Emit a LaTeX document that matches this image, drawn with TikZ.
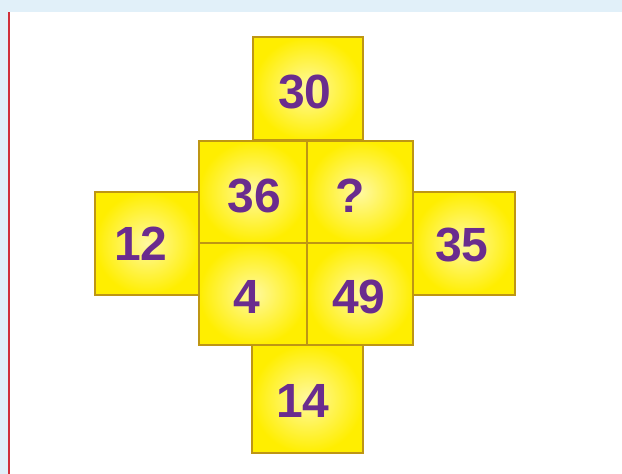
\documentclass[tikz,border=0pt]{standalone}
\usepackage{fontspec}
\setmainfont{Liberation Sans}
\definecolor{bgblue}{RGB}{225,240,249}
\definecolor{redline}{RGB}{208,48,58}
\definecolor{boxedge}{RGB}{190,150,20}
\definecolor{yinner}{RGB}{255,249,160}
\definecolor{youter}{RGB}{255,238,0}
\definecolor{numpurple}{RGB}{106,44,142}
\tikzset{
  tile/.style={rectangle, draw=boxedge, line width=1.2pt, inner sep=0pt,
    shading=radial, inner color=yinner, outer color=youter},
  num/.style={inner sep=0pt, text=numpurple, font=\fontsize{48}{48}\selectfont\bfseries}
}
\begin{document}
\begin{tikzpicture}[x=1pt,y=-1pt]
\useasboundingbox (0,0) rectangle (622,474);
\fill[bgblue] (0,0) rectangle (622,474);
\fill[white] (9,12) rectangle (622,474);
\fill[redline] (8,12) rectangle (10,474);
% tiles
\node[tile, minimum width=104pt, minimum height=103pt] (tl) at (147,243.5) {};
\node[tile, minimum width=102pt, minimum height=103pt] (tr) at (464,243.5) {};
\node[tile, minimum width=110pt, minimum height=103pt] (tt) at (308,88.5) {};
\node[tile, minimum width=111pt, minimum height=108pt] (tb) at (307.5,399) {};
\node[tile, minimum width=108pt, minimum height=102pt] (c1) at (253,192) {};
\node[tile, minimum width=106pt, minimum height=102pt] (c2) at (360,192) {};
\node[tile, minimum width=108pt, minimum height=102pt] (c3) at (253,294) {};
\node[tile, minimum width=106pt, minimum height=102pt] (c4) at (360,294) {};
% numbers
\node[num] (n30) at (305,92) {30};
\node[num] (n36) at (254.5,196) {36};
\node[num] (nq) at (350,196) {?};
\node[num] (n12) at (141,244) {12};
\node[num] (n35) at (462,245) {35};
\node[num] (n4) at (247,297) {4};
\node[num] (n49) at (359,297) {49};
\node[num] (n14) at (303,401) {14};
\end{tikzpicture}
\end{document}
